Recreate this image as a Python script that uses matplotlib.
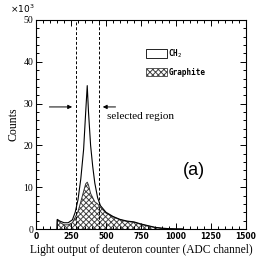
import matplotlib
matplotlib.use("Agg")
import matplotlib.pyplot as plt
import numpy as np
from matplotlib.ticker import MultipleLocator

# ADC channel grid and counts (x10^3)
adc = [150, 152, 170, 200, 230, 260, 280, 300, 320, 340, 355, 366, 375,
       390, 405, 420, 440, 460, 500, 550, 600, 650, 700, 750, 800, 850,
       900, 950, 1000, 1050]
ch2 = [0.0, 2.3, 1.9, 1.5, 1.5, 2.2, 4.0, 7.0, 12.0, 19.0, 28.0, 34.3, 28.0,
       20.0, 15.0, 11.0, 7.5, 5.6, 4.0, 3.0, 2.3, 1.9, 1.7, 1.2, 0.8, 0.4,
       0.2, 0.08, 0.02, 0.0]
graphite = [0.0, 2.2, 1.6, 1.0, 1.0, 1.5, 2.8, 4.2, 6.5, 9.0, 10.8, 11.2, 10.5,
            8.5, 7.5, 6.5, 6.0, 5.2, 3.8, 2.9, 2.2, 1.8, 1.6, 1.1, 0.7, 0.35,
            0.15, 0.05, 0.0, 0.0]

cut_lo, cut_hi = 283, 452

plt.rcParams['font.family'] = ['Liberation Serif', 'DejaVu Serif']
plt.rcParams['hatch.linewidth'] = 0.7

fig = plt.figure(figsize=(2.56, 2.58), dpi=100)
ax = fig.add_axes([0.1406, 0.1124, 0.8204, 0.8101])

ax.fill_between(adc, graphite, 0, facecolor='white', edgecolor='#444444',
                hatch='xxxxxx', linewidth=0)
ax.plot(adc, graphite, color='#333333', lw=0.7)
ax.plot(adc, ch2, color='black', lw=0.8)

ax.axvline(cut_lo, color='black', ls='--', lw=0.7, dashes=(3, 2))
ax.axvline(cut_hi, color='black', ls='--', lw=0.7, dashes=(3, 2))

ax.annotate('', xy=(cut_lo - 5, 29.2), xytext=(76, 29.2),
            arrowprops=dict(arrowstyle='-|>', color='black', lw=0.7,
                            mutation_scale=6))
ax.annotate('', xy=(cut_hi + 5, 29.2), xytext=(588, 29.2),
            arrowprops=dict(arrowstyle='-|>', color='black', lw=0.7,
                            mutation_scale=6))
ax.text(505, 26.8, 'selected region', fontsize=8, va='center', ha='left')
ax.text(1126, 13.9, '(a)', fontsize=13, va='center', ha='center',
        family=['Liberation Sans', 'DejaVu Sans'])

# legend boxes
ax.add_patch(plt.Rectangle((785, 40.9), 150, 2.1, facecolor='white',
                           edgecolor='black', lw=0.6))
ax.add_patch(plt.Rectangle((785, 36.5), 150, 2.1, facecolor='white',
                           edgecolor='#444444', hatch='xxxxxx', lw=0.6))
ax.text(945, 41.9, 'CH$_2$', fontsize=5.5, va='center', ha='left',
        family=['DejaVu Sans Mono'], weight='bold')
ax.text(945, 37.5, 'Graphite', fontsize=5.5, va='center', ha='left',
        family=['DejaVu Sans Mono'], weight='bold')

ax.set_xlim(0, 1500)
ax.set_ylim(0, 50)
ax.xaxis.set_major_locator(MultipleLocator(250))
ax.xaxis.set_minor_locator(MultipleLocator(50))
ax.yaxis.set_major_locator(MultipleLocator(10))
ax.yaxis.set_minor_locator(MultipleLocator(2))
ax.tick_params(which='both', direction='in', top=True, right=True, width=0.7)
ax.tick_params(which='major', length=4)
ax.tick_params(which='minor', length=2)
ax.tick_params(axis='y', labelsize=7, pad=2)
ax.tick_params(axis='x', labelsize=5.5, pad=2)
for lab in ax.get_xticklabels():
    lab.set_family(['DejaVu Sans'])
    lab.set_weight('bold')
for s in ax.spines.values():
    s.set_linewidth(0.8)

ax.set_ylabel('Counts', fontsize=8.5, labelpad=3)
ax.set_xlabel('Light output of deuteron counter (ADC channel)', fontsize=8.3,
              labelpad=2)
fig.text(0.04, 0.965, r'$\times 10^3$', fontsize=6.5, va='center', ha='left')

fig.savefig('out.png', dpi=100)
